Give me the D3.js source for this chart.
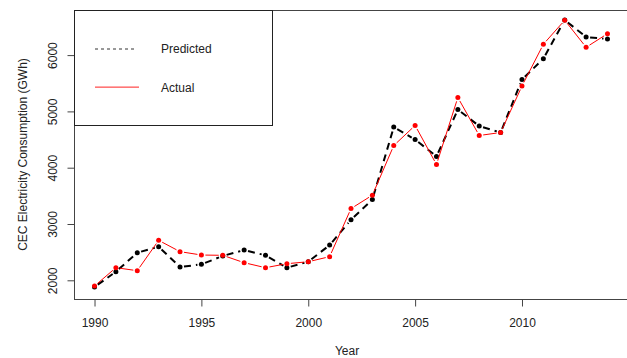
<!DOCTYPE html>
<html>
<head>
<meta charset="utf-8">
<script src="https://cdn.jsdelivr.net/npm/d3@7"></script>
<style>
  body { margin: 0; background: #fff; }
  text { font-family: "Liberation Sans", Arial, sans-serif; fill: #222; }
</style>
</head>
<body>
<script>
// values
const years = d3.range(1990, 2015);
const predicted = [1881, 2153, 2490, 2597, 2236, 2284, 2432, 2538, 2444, 2224, 2330, 2625, 3076,
                   3435, 4721, 4499, 4201, 5032, 4739, 4625, 5565, 5936, 6623, 6321, 6286];
const actual = [1899, 2224, 2171, 2710, 2509, 2449, 2444, 2313, 2224, 2295, 2330, 2420, 3274,
                3512, 4393, 4750, 4057, 5247, 4572, 4625, 5451, 6192, 6620, 6139, 6380];
const xTicks = [1990, 1995, 2000, 2005, 2010];
const yTicks = [2000, 3000, 4000, 5000, 6000];

const w = 627, h = 358;
const padL = 74, padR = 628, padT = 10, padB = 299;

const x = d3.scaleLinear().domain([1989.04, 2014.96]).range([padL, padR]);
const y = d3.scaleLinear().domain([1668, 6801]).range([padB, padT]);

const svg = d3.select("body").append("svg")
  .attr("width", w)
  .attr("height", h);

// plot box
svg.append("rect")
  .attr("x", padL + 0.5).attr("y", padT + 0.5)
  .attr("width", padR - padL).attr("height", padB - padT)
  .attr("fill", "none").attr("stroke", "#444").attr("stroke-width", 1);

// x axis
const xAxis = d3.axisBottom(x).tickValues(xTicks).tickFormat(d3.format("d")).tickSize(7).tickPadding(12);
const gx = svg.append("g")
  .attr("transform", "translate(0," + (padB + 0.5) + ")")
  .call(xAxis);
gx.select(".domain").remove();
gx.selectAll("line").attr("stroke", "#444");
gx.selectAll("text").attr("font-size", 12).attr("fill", "#222")
  .style("font-family", "Liberation Sans, Arial, sans-serif");

// y axis, labels turned like R's default
const yAxis = d3.axisLeft(y).tickValues(yTicks).tickSize(7).tickFormat(d3.format("d"));
const gy = svg.append("g")
  .attr("transform", "translate(" + (padL + 0.5) + ",0)")
  .call(yAxis);
gy.select(".domain").remove();
gy.selectAll("line").attr("stroke", "#444");
gy.selectAll("text")
  .attr("font-size", 12).attr("fill", "#222")
  .style("font-family", "Liberation Sans, Arial, sans-serif")
  .attr("x", null).attr("dy", "0.35em")
  .attr("text-anchor", "middle")
  .attr("transform", "translate(-22,0) rotate(-90)");

// axis titles
svg.append("text")
  .attr("x", (padL + padR) / 2 - 4).attr("y", 355)
  .attr("text-anchor", "middle").attr("font-size", 12)
  .text("Year");

svg.append("text")
  .attr("transform", "translate(23," + (padT + padB) / 2 + ") rotate(-90)")
  .attr("text-anchor", "middle").attr("dy", "0.35em").attr("font-size", 12)
  .text("CEC Electricity Consumption (GWh)");

// type "b": segments with small gaps around the points
function segments(vals) {
  const gap = 4;
  const out = [];
  for (let i = 0; i < vals.length - 1; i++) {
    const x1 = x(years[i]), y1 = y(vals[i]), x2 = x(years[i + 1]), y2 = y(vals[i + 1]);
    const len = Math.hypot(x2 - x1, y2 - y1);
    if (len <= 2 * gap) continue;
    const ux = (x2 - x1) / len, uy = (y2 - y1) / len;
    out.push([x1 + ux * gap, y1 + uy * gap, x2 - ux * gap, y2 - uy * gap]);
  }
  return out;
}

function drawSeries(vals, color, width, dash) {
  const g = svg.append("g");
  g.selectAll("line")
    .data(segments(vals))
    .enter()
    .append("line")
    .attr("x1", d => d[0]).attr("y1", d => d[1])
    .attr("x2", d => d[2]).attr("y2", d => d[3])
    .attr("stroke", color)
    .attr("stroke-width", width)
    .attr("stroke-dasharray", dash);
  g.selectAll("circle")
    .data(vals)
    .enter()
    .append("circle")
    .attr("cx", (d, i) => x(years[i]))
    .attr("cy", d => y(d))
    .attr("r", 2.5)
    .attr("fill", color);
}

drawSeries(predicted, "#000", 2, "7,5");
drawSeries(actual, "#f00", 1, null);

// legend
const leg = svg.append("g");
leg.append("rect")
  .attr("x", padL + 0.5).attr("y", padT + 0.5)
  .attr("width", 198).attr("height", 115)
  .attr("fill", "#fff").attr("stroke", "#222");
leg.append("line")
  .attr("x1", 95).attr("x2", 137).attr("y1", 49).attr("y2", 49)
  .attr("stroke", "#333").attr("stroke-width", 1).attr("stroke-dasharray", "3,3");
leg.append("rect")
  .attr("x", 95).attr("y", 86.5).attr("width", 44).attr("height", 1.3)
  .attr("fill", "#f55");
leg.append("text").attr("x", 161).attr("y", 49).attr("dy", "0.35em")
  .attr("font-size", 12).text("Predicted");
leg.append("text").attr("x", 161).attr("y", 88).attr("dy", "0.35em")
  .attr("font-size", 12).text("Actual");
</script>
</body>
</html>
